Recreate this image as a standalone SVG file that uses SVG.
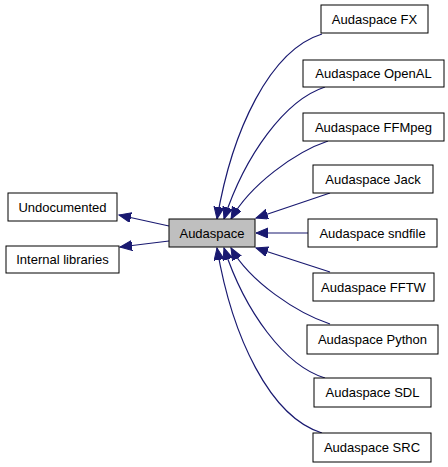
<svg xmlns="http://www.w3.org/2000/svg" width="448" height="467" viewBox="0 0 448 467">
<defs>
<style>
.n rect{fill:#fff;stroke:#000;stroke-width:1}
.n text{font-family:"Liberation Sans",Arial,sans-serif;font-size:13px;fill:#000;text-anchor:middle}
.e path{fill:none;stroke:#191970;stroke-width:1.2;marker-end:url(#ah)}
</style>
<marker id="ah" markerUnits="userSpaceOnUse" markerWidth="14" markerHeight="12" refX="12" refY="5" orient="auto">
<path d="M0,0 L12,5 L0,10 z" fill="#191970" stroke="#191970"/>
</marker>
</defs>
<rect width="448" height="467" fill="#fff"/>
<g id="edges" class="e">
<path d="M169,226 L119,215"/>
<path d="M169,241 L120,247"/>
<path d="M322,34 C270,50 232,130 217,219"/>
<path d="M325,87 C285,100 245,155 224,219"/>
<path d="M328,141 C295,152 250,185 231,219"/>
<path d="M330,193 L256,218"/>
<path d="M308,233 L256,233"/>
<path d="M330,272 L256,248"/>
<path d="M330,324 C297,313 250,282 231,248"/>
<path d="M325,378 C285,366 245,312 224,248"/>
<path d="M322,433 C270,417 232,337 217,248"/>
</g>
<g id="audaspace" class="n"><rect x="169" y="219" width="86" height="28" style="fill:#bfbfbf"/><text x="212" y="238">Audaspace</text></g>
<g id="undocumented" class="n"><rect x="8" y="193" width="109" height="28"/><text x="62.5" y="211.5">Undocumented</text></g>
<g id="internal" class="n"><rect x="6" y="246" width="113" height="27"/><text x="62.5" y="264">Internal libraries</text></g>
<g id="fx" class="n"><rect x="321" y="5" width="107" height="28"/><text x="374.5" y="23.5">Audaspace FX</text></g>
<g id="openal" class="n"><rect x="303" y="60" width="141" height="27"/><text x="373.5" y="78">Audaspace OpenAL</text></g>
<g id="ffmpeg" class="n"><rect x="303" y="113" width="141" height="28"/><text x="373.5" y="131.5">Audaspace FFMpeg</text></g>
<g id="jack" class="n"><rect x="313" y="165" width="120" height="28"/><text x="373" y="183.5">Audaspace Jack</text></g>
<g id="sndfile" class="n"><rect x="308" y="219" width="129" height="28"/><text x="372.5" y="237.5">Audaspace sndfile</text></g>
<g id="fftw" class="n"><rect x="313" y="273" width="121" height="28"/><text x="373.5" y="291.5">Audaspace FFTW</text></g>
<g id="python" class="n"><rect x="307" y="325" width="131" height="29"/><text x="372.5" y="344">Audaspace Python</text></g>
<g id="sdl" class="n"><rect x="314" y="378" width="117" height="29"/><text x="372.5" y="397">Audaspace SDL</text></g>
<g id="src" class="n"><rect x="313" y="433" width="118" height="29"/><text x="372" y="452">Audaspace SRC</text></g>
</svg>
